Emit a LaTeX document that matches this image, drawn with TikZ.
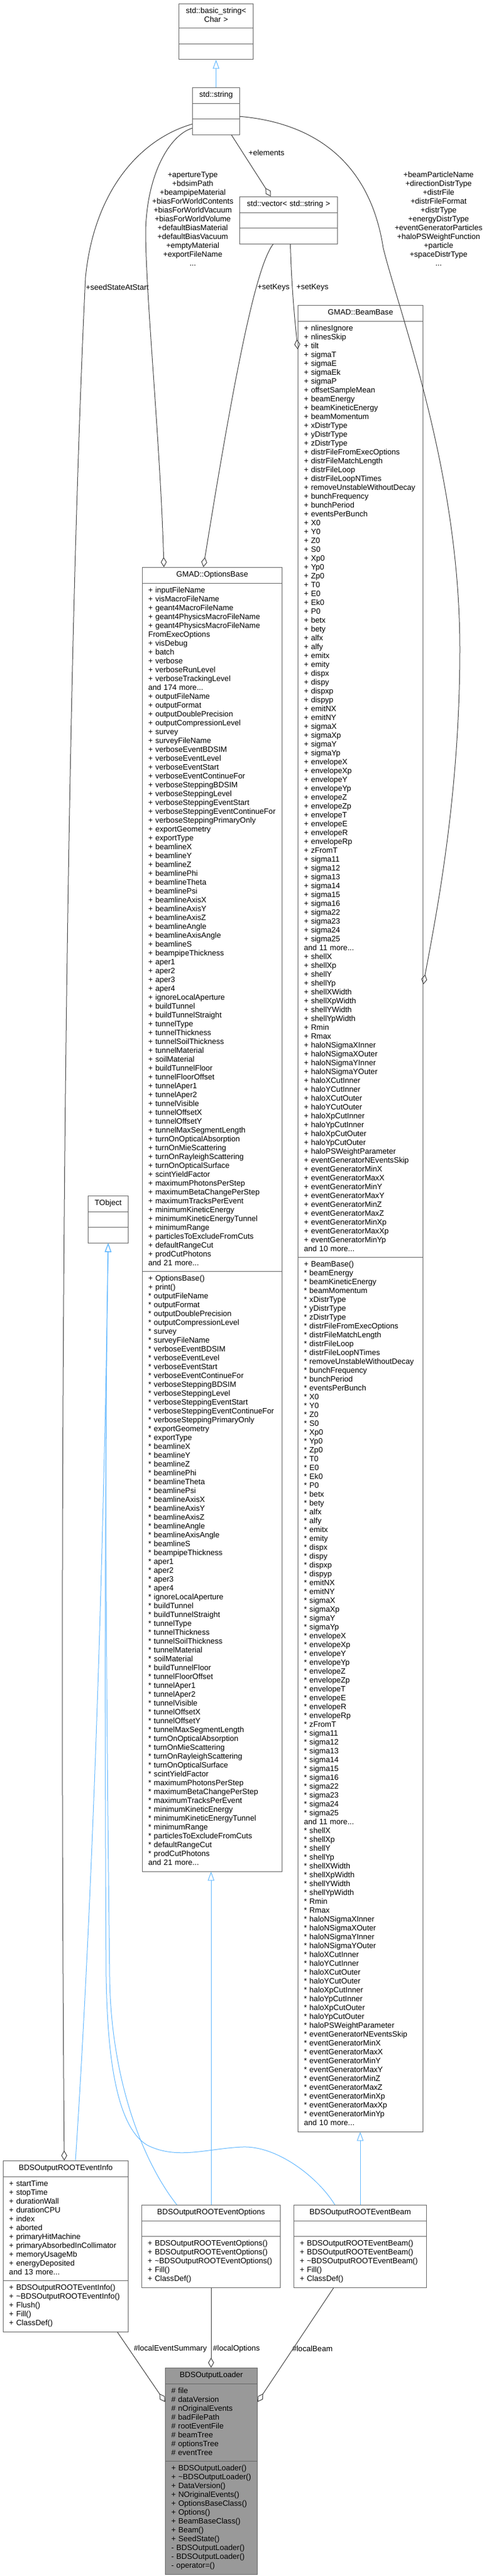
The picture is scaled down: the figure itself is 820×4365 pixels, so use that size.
\documentclass[tikz,border=0pt]{standalone}
\usepackage{fontspec}
\setmainfont{Liberation Sans}
\usetikzlibrary{shapes.multipart,arrows.meta}
\setlength{\parindent}{0pt}

\definecolor{edgeblue}{HTML}{63B8FF}
\definecolor{edgegray}{HTML}{404040}
\definecolor{boxline}{HTML}{666666}
\definecolor{focusfill}{HTML}{999999}

% one member line per call
\newcommand\mplus[1]{\mbox{\strut+ #1}\par}
\newcommand\mstar[1]{\mbox{\strut* #1}\par}
\newcommand\mhash[1]{\mbox{\strut\# #1}\par}
\newcommand\mminus[1]{\mbox{\strut- #1}\par}
\newcommand\mtext[1]{\mbox{\strut#1}\par}

% members listed twice in GMAD::OptionsBase
\newcommand\optmembers[1]{%
  #1{outputFileName}#1{outputFormat}#1{outputDoublePrecision}%
  #1{outputCompressionLevel}#1{survey}#1{surveyFileName}%
  #1{verboseEventBDSIM}#1{verboseEventLevel}#1{verboseEventStart}%
  #1{verboseEventContinueFor}#1{verboseSteppingBDSIM}#1{verboseSteppingLevel}%
  #1{verboseSteppingEventStart}#1{verboseSteppingEventContinueFor}%
  #1{verboseSteppingPrimaryOnly}#1{exportGeometry}#1{exportType}%
  #1{beamlineX}#1{beamlineY}#1{beamlineZ}#1{beamlinePhi}#1{beamlineTheta}%
  #1{beamlinePsi}#1{beamlineAxisX}#1{beamlineAxisY}#1{beamlineAxisZ}%
  #1{beamlineAngle}#1{beamlineAxisAngle}#1{beamlineS}#1{beampipeThickness}%
  #1{aper1}#1{aper2}#1{aper3}#1{aper4}#1{ignoreLocalAperture}%
  #1{buildTunnel}#1{buildTunnelStraight}#1{tunnelType}#1{tunnelThickness}%
  #1{tunnelSoilThickness}#1{tunnelMaterial}#1{soilMaterial}%
  #1{buildTunnelFloor}#1{tunnelFloorOffset}#1{tunnelAper1}#1{tunnelAper2}%
  #1{tunnelVisible}#1{tunnelOffsetX}#1{tunnelOffsetY}%
  #1{tunnelMaxSegmentLength}#1{turnOnOpticalAbsorption}%
  #1{turnOnMieScattering}#1{turnOnRayleighScattering}%
  #1{turnOnOpticalSurface}#1{scintYieldFactor}#1{maximumPhotonsPerStep}%
  #1{maximumBetaChangePerStep}#1{maximumTracksPerEvent}%
  #1{minimumKineticEnergy}#1{minimumKineticEnergyTunnel}#1{minimumRange}%
  #1{particlesToExcludeFromCuts}#1{defaultRangeCut}#1{prodCutPhotons}}

% members listed twice in GMAD::BeamBase
\newcommand\beammembers[1]{%
  #1{beamEnergy}#1{beamKineticEnergy}#1{beamMomentum}%
  #1{xDistrType}#1{yDistrType}#1{zDistrType}%
  #1{distrFileFromExecOptions}#1{distrFileMatchLength}#1{distrFileLoop}%
  #1{distrFileLoopNTimes}#1{removeUnstableWithoutDecay}%
  #1{bunchFrequency}#1{bunchPeriod}#1{eventsPerBunch}%
  #1{X0}#1{Y0}#1{Z0}#1{S0}#1{Xp0}#1{Yp0}#1{Zp0}#1{T0}#1{E0}#1{Ek0}#1{P0}%
  #1{betx}#1{bety}#1{alfx}#1{alfy}#1{emitx}#1{emity}%
  #1{dispx}#1{dispy}#1{dispxp}#1{dispyp}#1{emitNX}#1{emitNY}%
  #1{sigmaX}#1{sigmaXp}#1{sigmaY}#1{sigmaYp}%
  #1{envelopeX}#1{envelopeXp}#1{envelopeY}#1{envelopeYp}%
  #1{envelopeZ}#1{envelopeZp}#1{envelopeT}#1{envelopeE}%
  #1{envelopeR}#1{envelopeRp}#1{zFromT}%
  #1{sigma11}#1{sigma12}#1{sigma13}#1{sigma14}#1{sigma15}#1{sigma16}%
  #1{sigma22}#1{sigma23}#1{sigma24}#1{sigma25}\mtext{and 11 more...}%
  #1{shellX}#1{shellXp}#1{shellY}#1{shellYp}%
  #1{shellXWidth}#1{shellXpWidth}#1{shellYWidth}#1{shellYpWidth}%
  #1{Rmin}#1{Rmax}#1{haloNSigmaXInner}#1{haloNSigmaXOuter}%
  #1{haloNSigmaYInner}#1{haloNSigmaYOuter}#1{haloXCutInner}%
  #1{haloYCutInner}#1{haloXCutOuter}#1{haloYCutOuter}%
  #1{haloXpCutInner}#1{haloYpCutInner}#1{haloXpCutOuter}%
  #1{haloYpCutOuter}#1{haloPSWeightParameter}%
  #1{eventGeneratorNEventsSkip}#1{eventGeneratorMinX}#1{eventGeneratorMaxX}%
  #1{eventGeneratorMinY}#1{eventGeneratorMaxY}#1{eventGeneratorMinZ}%
  #1{eventGeneratorMaxZ}#1{eventGeneratorMinXp}#1{eventGeneratorMaxXp}%
  #1{eventGeneratorMinYp}}

\tikzset{
  umlclass/.style={rectangle split, rectangle split parts=3, draw=boxline,
    line width=1pt, fill=white, anchor=north west, inner xsep=10pt,
    inner ysep=5.25pt, align=left, font=\fontsize{13.1}{15}\selectfont},
  focusclass/.style={umlclass, fill=focusfill},
  edgelbl/.style={font=\fontsize{13.1}{15}\selectfont, align=center, inner sep=0pt},
  inherit/.style={draw=edgeblue, line width=1pt,
    -{Triangle[open, length=15pt, width=11pt]}},
  member/.style={draw=edgegray, line width=1pt,
    -{Diamond[open, length=17pt, width=10pt]}},
}

\begin{document}
\begin{tikzpicture}[x=1pt,y=-1pt]
  \useasboundingbox (0,0) rectangle (820,4365);

  % classes
  \node[umlclass, text width=106pt] (basic) at (303,6)
    {\centering\mtext{std::basic\_string<}\mtext{Char >}\nodepart{two}\strut\nodepart{three}\strut};
  \node[umlclass, text width=60pt] (string) at (326,148)
    {\centering\mtext{std::string}\nodepart{two}\strut\nodepart{three}\strut};
  \node[umlclass, text width=146pt] (vector) at (406,333)
    {\centering\mtext{std::vector< std::string >}\nodepart{two}\strut\nodepart{three}\strut};

  \node[umlclass, text width=217pt] (options) at (241,961)
    {\centering\mtext{GMAD::OptionsBase}
     \nodepart{two}
     \mplus{inputFileName}\mplus{visMacroFileName}\mplus{geant4MacroFileName}
     \mplus{geant4PhysicsMacroFileName}\mplus{geant4PhysicsMacroFileName}
     \mtext{FromExecOptions}\mplus{visDebug}\mplus{batch}\mplus{verbose}
     \mplus{verboseRunLevel}\mplus{verboseTrackingLevel}\mtext{and 174 more...}
     \optmembers\mplus\mtext{and 21 more...}
     \nodepart{three}
     \mplus{OptionsBase()}\mplus{print()}
     \optmembers\mstar\mtext{and 21 more...}};

  \node[umlclass, text width=192pt] (beam) at (505,517)
    {\centering\mtext{GMAD::BeamBase}
     \nodepart{two}
     \mplus{nlinesIgnore}\mplus{nlinesSkip}\mplus{tilt}\mplus{sigmaT}
     \mplus{sigmaE}\mplus{sigmaEk}\mplus{sigmaP}\mplus{offsetSampleMean}
     \beammembers\mplus\mtext{and 10 more...}
     \nodepart{three}
     \mplus{BeamBase()}
     \beammembers\mstar\mtext{and 10 more...}};

  \node[umlclass, text width=48pt] (tobject) at (149,2026)
    {\centering\mtext{TObject}\nodepart{two}\strut\nodepart{three}\strut};

  \node[umlclass, text width=192pt] (evinfo) at (5,3661)
    {\centering\mtext{BDSOutputROOTEventInfo}
     \nodepart{two}
     \mplus{startTime}\mplus{stopTime}\mplus{durationWall}\mplus{durationCPU}
     \mplus{index}\mplus{aborted}\mplus{primaryHitMachine}
     \mplus{primaryAbsorbedInCollimator}\mplus{memoryUsageMb}
     \mplus{energyDeposited}\mtext{and 13 more...}
     \nodepart{three}
     \mplus{BDSOutputROOTEventInfo()}\mplus{\textasciitilde BDSOutputROOTEventInfo()}
     \mplus{Flush()}\mplus{Fill()}\mplus{ClassDef()}};

  \node[umlclass, text width=215pt] (evopt) at (240,3736)
    {\centering\mtext{BDSOutputROOTEventOptions}
     \nodepart{two}\strut
     \nodepart{three}
     \mplus{BDSOutputROOTEventOptions()}\mplus{BDSOutputROOTEventOptions()}
     \mplus{\textasciitilde BDSOutputROOTEventOptions()}
     \mplus{Fill()}\mplus{ClassDef()}};

  \node[umlclass, text width=205pt] (evbeam) at (498,3736)
    {\centering\mtext{BDSOutputROOTEventBeam}
     \nodepart{two}\strut
     \nodepart{three}
     \mplus{BDSOutputROOTEventBeam()}\mplus{BDSOutputROOTEventBeam()}
     \mplus{\textasciitilde BDSOutputROOTEventBeam()}
     \mplus{Fill()}\mplus{ClassDef()}};

  \node[focusclass, text width=136pt] (loader) at (280,4012)
    {\centering\mtext{BDSOutputLoader}
     \nodepart{two}
     \mhash{file}\mhash{dataVersion}\mhash{nOriginalEvents}\mhash{badFilePath}
     \mhash{rootEventFile}\mhash{beamTree}\mhash{optionsTree}\mhash{eventTree}
     \nodepart{three}
     \mplus{BDSOutputLoader()}\mplus{\textasciitilde BDSOutputLoader()}
     \mplus{DataVersion()}\mplus{NOriginalEvents()}\mplus{OptionsBaseClass()}
     \mplus{Options()}\mplus{BeamBaseClass()}\mplus{Beam()}\mplus{SeedState()}
     \mminus{BDSOutputLoader()}\mminus{BDSOutputLoader()}\mminus{operator=()}};

  % edge labels
  \node[edgelbl] (elemlbl) at (452,259) {+elements};
  \node[edgelbl, anchor=north] (stroptlbl) at (327,291)
    {+apertureType\\+bdsimPath\\+beampipeMaterial\\+biasForWorldContents\\
     +biasForWorldVacuum\\+biasForWorldVolume\\+defaultBiasMaterial\\
     +defaultBiasVacuum\\+emptyMaterial\\+exportFileName\\...};
  \node[edgelbl, anchor=north] (strbeamlbl) at (744,291)
    {+beamParticleName\\+directionDistrType\\+distrFile\\+distrFileFormat\\
     +distrType\\+energyDistrType\\+eventGeneratorParticles\\
     +haloPSWeightFunction\\+particle\\+spaceDistrType\\...};
  \node[edgelbl] (seedlbl) at (199,487) {+seedStateAtStart};
  \node[edgelbl] (keyoptlbl) at (464,487) {+setKeys};
  \node[edgelbl] (keybeamlbl) at (530,487) {+setKeys};
  \node[edgelbl] (summarylbl) at (289,3980) {\#localEventSummary};
  \node[edgelbl] (localoptlbl) at (401,3980) {\#localOptions};
  \node[edgelbl] (localbeamlbl) at (530,3980) {\#localBeam};

  % inheritance
  \draw[inherit] (string.north) -- (basic.south);
  \draw[inherit] (evopt.north) -- (evopt.north |- options.south);
  \draw[inherit] (evbeam.north) -- (evbeam.north |- beam.south);
  \draw[inherit] ([xshift=123pt]evinfo.north west)
    .. controls (155,3250) and (175,2700) .. (tobject.south);
  \draw[inherit] ([xshift=60pt]evopt.north west)
    .. controls (240,3660) and (188,3520) .. (186,3350)
    .. controls (182,3000) and (176,2500) .. (tobject.south);
  \draw[inherit] ([xshift=70pt]evbeam.north west)
    .. controls (540,3690) and (470,3635) .. (410,3638)
    .. controls (350,3641) and (300,3660) .. (250,3635)
    .. controls (190,3600) and (182,3450) .. (180,3350)
    .. controls (178,3000) and (177,2500) .. (tobject.south);

  % members
  \draw[member] ([xshift=26pt]string.south) -- ([xshift=-30pt]vector.north);
  \draw[member] ([yshift=-29pt]string.west)
    .. controls (290,228) and (250,290) .. (247,390)
    .. controls (247,500) and (272,750) .. ([xshift=37pt]options.north west);
  \draw[member] ([yshift=-22pt]string.west)
    .. controls (240,235) and (160,320) .. (145,470)
    .. controls (110,1200) and (100,2500) .. ([xshift=104pt]evinfo.north west);
  \draw[member] ([xshift=-26pt]vector.south)
    .. controls (435,450) and (400,620) .. ([xshift=104pt]options.north west);
  \draw[member] ([xshift=3pt]vector.south)
    .. controls (495,500) and (502,560) .. ([yshift=-75pt]beam.north west);
  \draw[member] ([yshift=-9pt]string.east)
    .. controls (550,210) and (630,290) .. (650,420)
    .. controls (680,540) and (780,800) .. (780,1100)
    .. controls (780,1350) and (740,1550) .. ([yshift=-1151pt]beam.north east);
  \draw[member] ([xshift=194pt]evinfo.south west) -- ([yshift=-58pt]loader.north west);
  \draw[member] (evopt.south) -- (evopt.south |- loader.north);
  \draw[member] ([xshift=68pt]evbeam.south west) -- ([yshift=-58pt]loader.north east);
\end{tikzpicture}
\end{document}
